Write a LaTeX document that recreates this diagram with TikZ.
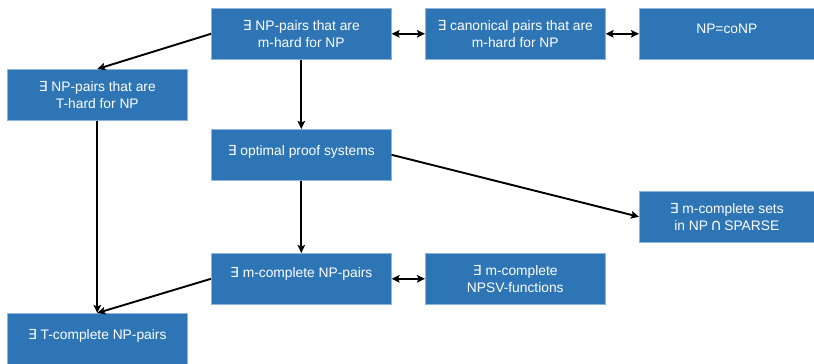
\documentclass[tikz,border=0pt]{standalone}
\usepackage{fontspec}
\setmainfont{Liberation Sans}
\newfontfamily\symfont{DejaVu Sans}
\usetikzlibrary{arrows.meta}
\definecolor{boxblue}{HTML}{2E75B6}
\definecolor{boxedge}{HTML}{8FB4DC}
\newcommand{\ex}{{\symfont ∃}}
\begin{document}
\begin{tikzpicture}[x=1pt,y=-1pt,
  box/.style={draw=boxedge, line width=0.6pt, fill=boxblue, minimum width=180pt,
    minimum height=51pt, inner sep=0pt, anchor=north west},
  lbl/.style={text=white, font=\fontsize{13.8}{17}\selectfont, align=center, inner sep=0pt},
  conn/.style={line width=1.9pt, -{Stealth[length=8pt,width=7.5pt,inset=1.5pt]}},
  both/.style={line width=1.9pt, {Stealth[length=8pt,width=7.5pt,inset=1.5pt]}-{Stealth[length=8pt,width=7.5pt,inset=1.5pt]}}]
\useasboundingbox (0,0) rectangle (814,364);

% boxes
\node[box] (mhard)  at (211,8)   {};
\node[box] (canon)  at (425,8)   {};
\node[box, minimum width=175pt] (conp) at (639,8) {};
\node[box] (thard)  at (7,69)    {};
\node[box] (opt)    at (211,129) {};
\node[box, minimum width=175pt] (sparse) at (639,191) {};
\node[box] (mcomp)  at (211,253) {};
\node[box] (npsv)   at (425,253) {};
\node[box] (tcomp)  at (7,313)   {};

% labels
\node[lbl] (tmhard)  at (mhard.center)  {\ex\ NP-pairs that are\\m-hard for NP};
\node[lbl] (tcanon)  at (canon.center)  {\ex\ canonical pairs that are\\m-hard for NP};
\node[lbl, yshift=5pt] (tconp) at (conp.center) {NP=coNP};
\node[lbl] (tthard)  at (thard.center)  {\ex\ NP-pairs that are\\T-hard for NP};
\node[lbl, yshift=3pt] (topt) at (opt.center) {\ex\ optimal proof systems};
\node[lbl] (tsparse) at (sparse.center) {\ex\ m-complete sets\\in NP\,{\symfont\fontsize{16}{17}\selectfont ∩}\,SPARSE};
\node[lbl, yshift=5pt] (tmcomp) at (mcomp.center) {\ex\ m-complete NP-pairs};
\node[lbl] (tnpsv)   at (npsv.center)   {\ex\ m-complete\\NPSV-functions};
\node[lbl, yshift=3pt] (ttcomp) at (tcomp.center) {\ex\ T-complete NP-pairs};

% connectors
\draw[both] (mhard.east) -- (canon.west);
\draw[both] (canon.east) -- (conp.west);
\draw[both] (mcomp.east) -- (npsv.west);
\draw[conn] (mhard.west) -- (thard.north);
\draw[conn] (mhard.south) -- (opt.north);
\draw[conn] (opt.south) -- (mcomp.north);
\draw[conn] (thard.south) -- (tcomp.north);
\draw[conn] (mcomp.west) -- (tcomp.north);
\draw[conn] (opt.east) -- (sparse.west);
\end{tikzpicture}
\end{document}
